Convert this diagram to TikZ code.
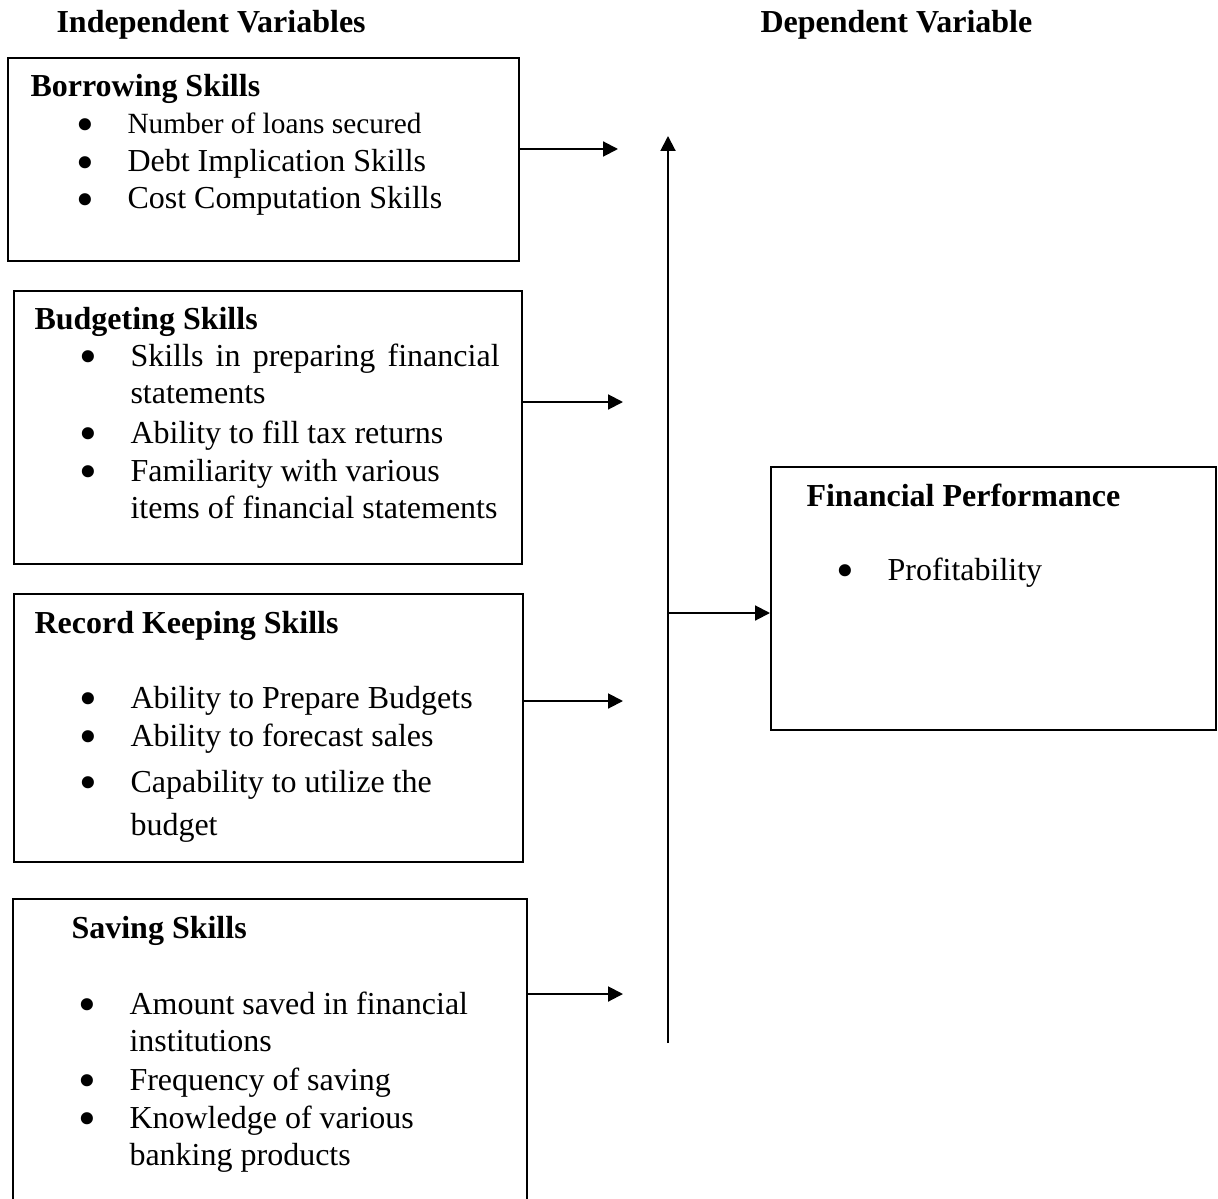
\documentclass[tikz,border=0pt]{standalone}
\usepackage{fontspec}
\setmainfont{Liberation Serif}
\usetikzlibrary{arrows.meta}
\newcommand{\bul}{\llap{\raisebox{-2.7pt}{\fontsize{19}{19}\selectfont\textbullet}\hspace{12.4pt}}}
\tikzset{
	varbox/.style={draw,line width=0.75pt,anchor=north west,inner sep=0pt},
	headtxt/.style={anchor=base west,inner sep=0pt,font=\fontsize{12}{14}\selectfont\bfseries},
	itemtxt/.style={anchor=base west,inner sep=0pt,align=left,font=\fontsize{12}{13.6}\selectfont},
	link/.style={line width=0.75pt,-{Triangle[length=5.6pt,width=5.6pt]}}
}

\begin{document}
\begin{tikzpicture}[x=0.375pt,y=-0.375pt]
			\clip (0,0) rectangle (1218,1198);
			\node[headtxt] (indep) at (56,33) {Independent Variables};
			\node[headtxt] (dep) at (760,33) {Dependent Variable};
			\node[varbox,minimum width=191.6pt,minimum height=76.1pt] (borrow) at (7,57) {};
			\node[varbox,minimum width=190.5pt,minimum height=102.4pt] (budget) at (13,290) {};
			\node[varbox,minimum width=190.9pt,minimum height=100.5pt] (record) at (13,593) {};
			\node[varbox,minimum width=192.8pt,minimum height=117pt] (saving) at (12,898) {};
			\node[varbox,minimum width=166.9pt,minimum height=98.6pt] (perf) at (770,466) {};
			\node[headtxt] (borrowh) at (30,97) {Borrowing Skills};
			\node[itemtxt,font=\fontsize{11}{13}\selectfont] (borrow1) at (127,134) {\bul Number of loans secured};
			\node[itemtxt] (borrow2) at (127,172) {\bul Debt Implication Skills};
			\node[itemtxt] (borrow3) at (127,209) {\bul Cost Computation Skills};
			\node[headtxt] (budgeth) at (34,329) {Budgeting Skills};
			\node[itemtxt] (budget1) at (130,403) {\bul\makebox[138.4pt][s]{Skills in preparing financial}\\statements};
			\node[itemtxt] (budget2) at (130,443) {\bul Ability to fill tax returns};
			\node[itemtxt] (budget3) at (130,518) {\bul Familiarity with various\\items of financial statements};
			\node[headtxt] (recordh) at (34,633) {Record Keeping Skills};
			\node[itemtxt] (record1) at (130,708) {\bul Ability to Prepare Budgets};
			\node[itemtxt] (record2) at (130,746) {\bul Ability to forecast sales};
			\node[itemtxt] (record3) at (130,835) {\bul Capability to utilize the\\[2.4pt]budget};
			\node[headtxt] (savingh) at (71,938) {Saving Skills};
			\node[itemtxt] (saving1) at (129,1051) {\bul Amount saved in financial\\institutions};
			\node[itemtxt] (saving2) at (129,1090) {\bul Frequency of saving};
			\node[itemtxt] (saving3) at (129,1165) {\bul Knowledge of various\\banking products};
			\node[headtxt] (perfh) at (806,506) {Financial Performance};
			\node[itemtxt] (perf1) at (887,580) {\bul Profitability};
			\coordinate (t1) at (618,149);
			\coordinate (t2) at (623,402);
			\coordinate (t3) at (623,701);
			\coordinate (t4) at (623,994);
			\coordinate (vtop) at (668,136);
			\coordinate (vbot) at (668,1043);
			\coordinate (vmid) at (668,613);
			\draw[link] (borrow.east |- t1) -- (t1);
			\draw[link] (budget.east |- t2) -- (t2);
			\draw[link] (record.east |- t3) -- (t3);
			\draw[link] (saving.east |- t4) -- (t4);
			\draw[link] (vbot) -- (vtop);
			\draw[link] (vmid) -- (perf.west |- vmid);
		\end{tikzpicture}
\end{document}
